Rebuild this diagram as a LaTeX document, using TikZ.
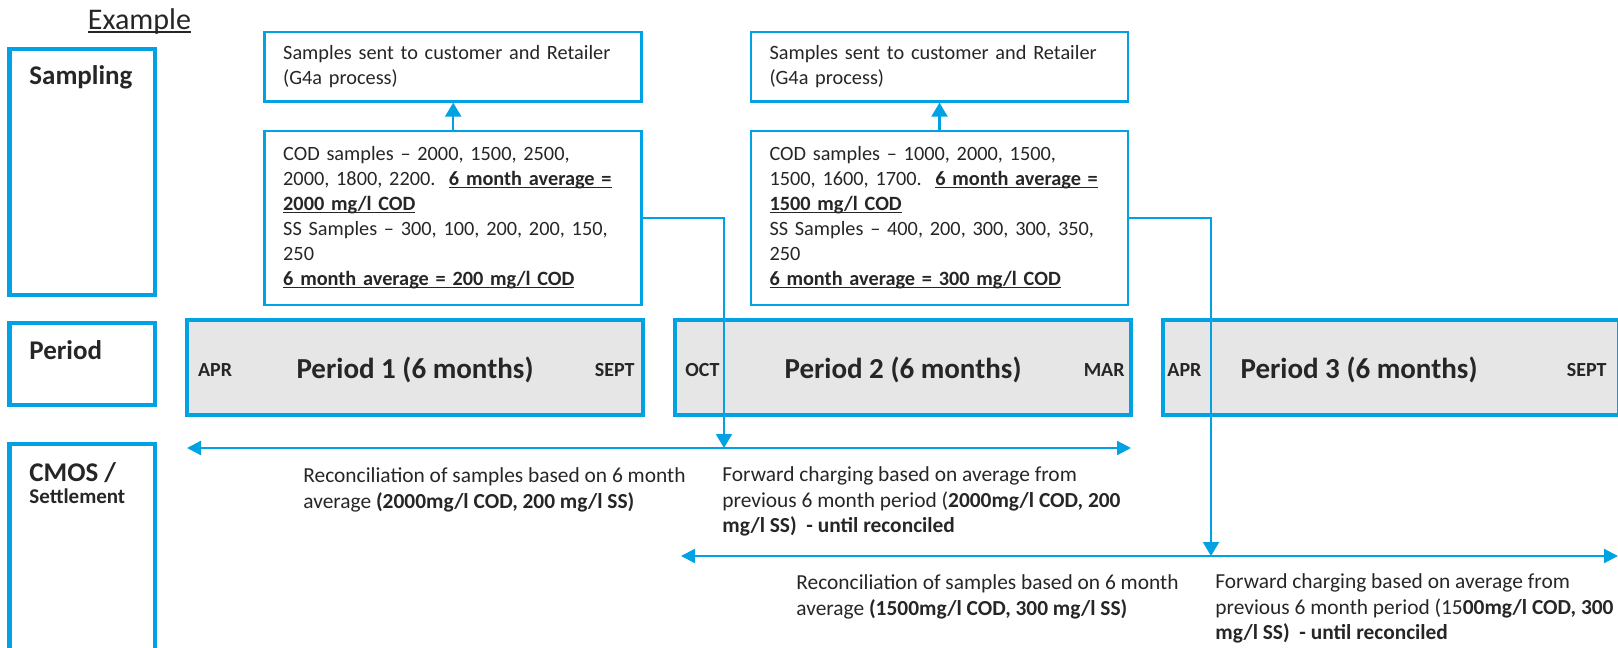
\documentclass[tikz,border=0pt]{standalone}
\usepackage{fontspec}
\setmainfont{Carlito}
\usepackage{tikz}
\usetikzlibrary{arrows.meta}
\usepackage{xcolor}
\definecolor{laneblue}{RGB}{0,162,227}
\definecolor{periodgrey}{RGB}{230,230,230}
\definecolor{inkgrey}{RGB}{38,38,38}
% underline close to the baseline
\newcommand{\avgline}[1]{\leavevmode\setbox0\hbox{#1}\rlap{\rule[-0.12em]{\wd0}{0.07em}}\box0}

\begin{document}
\begin{tikzpicture}[
    x=0.5pt, y=-0.5pt,
    node distance=244pt,
    font=\fontsize{10.7}{12.75}\selectfont, text=inkgrey,
    lane/.style={rectangle, draw=laneblue, line width=2.2pt, minimum width=72.75pt},
    lanetitle/.style={anchor=north west, inner sep=0pt, align=left,
        font=\fontsize{13.5}{11}\selectfont\bfseries},
    period/.style={rectangle, draw=laneblue, fill=periodgrey, line width=2.4pt,
        minimum width=228pt, minimum height=47.5pt},
    periodtitle/.style={inner sep=0pt, yshift=-1pt, font=\fontsize{14.5}{17}\selectfont\bfseries},
    month/.style={inner sep=0pt, yshift=-1.5pt, font=\fontsize{10}{12}\selectfont\bfseries},
    infobox/.style={rectangle, draw=laneblue, line width=1.3pt,
        font=\fontsize{10.15}{12.5}\selectfont,
        text width=170pt, inner xsep=9.25pt, inner ysep=0pt, align=left},
    codbox/.style={infobox, minimum height=87pt},
    sentbox/.style={infobox, minimum height=34.65pt},
    note/.style={anchor=north west, inner sep=0pt, align=left},
    arrow/.style={-{Triangle[width=8pt, length=7pt]}, line width=1.1pt, laneblue},
    twoway/.style={{Triangle[width=7pt, length=7pt]}-{Triangle[width=7pt, length=7pt]},
        line width=1.1pt, laneblue}
]
    \useasboundingbox (0,0) rectangle (1618,648);

    \node[anchor=base, inner sep=0pt, font=\fontsize{15}{18}\selectfont] (ex) at (139.5,29.5) {\avgline{Example}};

    % Lanes
    \node[lane, minimum height=123pt] (samp) at (82.25,172) {};
    \node[lane, minimum height=41pt] (per) at (82.25,364) {};
    \node[lane, minimum height=128pt] (cmos) at (82.25,572) {};
    \node[lanetitle] (sampT) at (29,65) {Sampling};
    \node[lanetitle] (perT) at (29,340) {Period};
    \node[lanetitle] (cmosT) at (29,462) {CMOS /\\\fontsize{10.5}{12.6}\selectfont Settlement};

    % Periods
    \node[period] (per1) at (415,367.5) {};
    \node[period, right of=per1] (per2) {};
    \node[period, right of=per2] (per3) {};
    \node[periodtitle] (t1) at (per1) {Period 1 (6 months)};
    \node[periodtitle] (t2) at (per2) {Period 2 (6 months)};
    \node[periodtitle, xshift=-16pt] (t3) at (per3) {Period 3 (6 months)};
    \node[month, anchor=west] (apr1) at ([xshift=6.5pt]per1.west) {APR};
    \node[month, anchor=east] (sep1) at ([xshift=-5.2pt]per1.east) {SEPT};
    \node[month, anchor=west] (oct2) at ([xshift=6.2pt]per2.west) {OCT};
    \node[month, anchor=east] (mar2) at ([xshift=-4.2pt]per2.east) {MAR};
    \node[month, anchor=west] (apr3) at ([xshift=3.2pt]per3.west) {APR};
    \node[month, anchor=east] (sep3) at ([xshift=-7.2pt]per3.east) {SEPT};

    % Sampling boxes
    \node[codbox] (cod1) at (453.2,218) {COD samples -- 2000, 1500, 2500,\\
        2000, 1800, 2200.\ \ \avgline{\textbf{6 month average =}}\\
        \avgline{\textbf{2000 mg/l COD}}\\
        SS Samples -- 300, 100, 200, 200, 150,\\
        250\\
        \avgline{\textbf{6 month average = 200 mg/l COD}}};
    \node[sentbox, above of=cod1, node distance=75.65pt] (sent1) {Samples sent to customer and Retailer\\(G4a process)};
    \node[codbox] (cod2) at (939.5,218) {COD samples -- 1000, 2000, 1500,\\
        1500, 1600, 1700.\ \ \avgline{\textbf{6 month average =}}\\
        \avgline{\textbf{1500 mg/l COD}}\\
        SS Samples -- 400, 200, 300, 300, 350,\\
        250\\
        \avgline{\textbf{6 month average = 300 mg/l COD}}};
    \node[sentbox, above of=cod2, node distance=75.65pt] (sent2) {Samples sent to customer and Retailer\\(G4a process)};

    % CMOS / settlement
    \coordinate (rec1L) at (187,448);
    \coordinate (rec1R) at (1131,448);
    \coordinate (fwd1) at (724,448);
    \coordinate (rec2L) at (681,556);
    \coordinate (rec2R) at (1618,556);
    \coordinate (fwd2) at (1211,556);
    \node[note] (rec1T) at (303,467.5) {Reconciliation of samples based on 6 month\\
        average \textbf{(2000mg/l COD, 200 mg/l SS)}};
    \node[note] (fwd1T) at (722,466.5) {Forward charging based on average from\\
        previous 6 month period (\textbf{2000mg/l COD, 200}\\
        \textbf{mg/l SS)\ \ - until reconciled}};
    \node[note] (rec2T) at (796,574.5) {Reconciliation of samples based on 6 month\\
        average \textbf{(1500mg/l COD, 300 mg/l SS)}};
    \node[note] (fwd2T) at (1215,573.5) {Forward charging based on average from\\
        previous 6 month period (15\textbf{00mg/l COD, 300}\\
        \textbf{mg/l SS)\ \ - until reconciled}};

    \draw[arrow] (cod1) -- (sent1);
    \draw[arrow] (cod2) -- (sent2);
    \draw[twoway] (rec1L) -- (rec1R);
    \draw[twoway] (rec2L) -- (rec2R);
    \draw[arrow] (cod1) -| (fwd1);
    \draw[arrow] (cod2) -| (fwd2);
\end{tikzpicture}
\end{document}
